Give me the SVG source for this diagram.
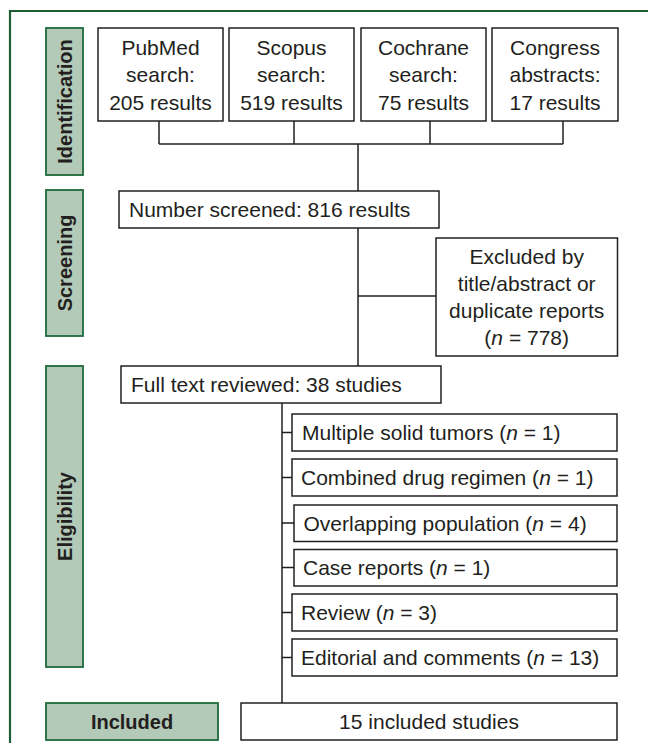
<svg xmlns="http://www.w3.org/2000/svg" width="648" height="743" viewBox="0 0 648 743">
<style>
.frame{fill:none;stroke:#1d5e34;stroke-width:2.2}
.stage rect{fill:#b4cab9;stroke:#1f6a3b;stroke-width:1.8}
.stage text{font-family:"Liberation Sans",Arial,sans-serif;font-weight:bold;font-size:20px;fill:#231f20;text-anchor:middle;dominant-baseline:central}
.box rect{fill:#fff;stroke:#231f20;stroke-width:1.5}
.box text{font-family:"Liberation Sans",Arial,sans-serif;font-size:21px;fill:#231f20}
.c{text-anchor:middle}
#connectors path{fill:none;stroke:#231f20;stroke-width:1.5}
</style>
<rect width="648" height="743" fill="#fff"/>
<path class="frame" d="M10,743 V11 H648"/>

<g id="stage-identification" class="stage"><rect x="46" y="28" width="37" height="147"/><text transform="translate(64.5,101.5) rotate(-90)">Identification</text></g>
<g id="stage-screening" class="stage"><rect x="46" y="190" width="37" height="146"/><text transform="translate(64.5,263) rotate(-90)">Screening</text></g>
<g id="stage-eligibility" class="stage"><rect x="46" y="366" width="37" height="301"/><text transform="translate(64.5,516.5) rotate(-90)">Eligibility</text></g>
<g id="stage-included" class="stage"><rect x="46" y="703" width="172" height="37"/><text x="132" y="721.5">Included</text></g>

<g id="connectors">
<path d="M159,121 V144 M294,121 V144 M430,121 V144 M563,121 V144 M159,144 H563 M358,144 V191"/>
<path d="M358,228 V366 M358,296 H436"/>
<path d="M282,403 V703 M282,432.5 H292 M282,477.5 H292 M282,523 H294 M282,567.5 H294 M282,612.5 H292 M282,657.5 H292"/>
</g>

<g id="pubmed" class="box"><rect x="98" y="28" width="125" height="93"/><text class="c" x="160.5" y="54.5">PubMed</text><text class="c" x="160.5" y="82">search:</text><text class="c" x="160.5" y="109.5">205 results</text></g>
<g id="scopus" class="box"><rect x="229" y="28" width="125" height="93"/><text class="c" x="291.5" y="54.5">Scopus</text><text class="c" x="291.5" y="82">search:</text><text class="c" x="291.5" y="109.5">519 results</text></g>
<g id="cochrane" class="box"><rect x="361" y="28" width="125" height="93"/><text class="c" x="423.5" y="54.5">Cochrane</text><text class="c" x="423.5" y="82">search:</text><text class="c" x="423.5" y="109.5">75 results</text></g>
<g id="congress" class="box"><rect x="492" y="28" width="126" height="93"/><text class="c" x="555" y="54.5">Congress</text><text class="c" x="555" y="82">abstracts:</text><text class="c" x="555" y="109.5">17 results</text></g>

<g id="screened" class="box"><rect x="119" y="191" width="320" height="37"/><text x="129" y="217">Number screened: 816 results</text></g>
<g id="excluded" class="box"><rect x="436" y="238" width="181.5" height="118"/><text class="c" x="526.7" y="263.5">Excluded by</text><text class="c" x="526.7" y="290.5">title/abstract or</text><text class="c" x="526.7" y="317.5">duplicate reports</text><text class="c" x="526.7" y="344.5">(<tspan font-style="italic">n</tspan> = 778)</text></g>

<g id="fulltext" class="box"><rect x="121" y="366" width="320" height="37"/><text x="131" y="392">Full text reviewed: 38 studies</text></g>

<g id="ex-multiple" class="box"><rect x="292" y="414" width="325" height="37"/><text x="302" y="440">Multiple solid tumors (<tspan font-style="italic">n</tspan> = 1)</text></g>
<g id="ex-combined" class="box"><rect x="292" y="459" width="325" height="37"/><text x="301" y="485">Combined drug regimen (<tspan font-style="italic">n</tspan> = 1)</text></g>
<g id="ex-overlapping" class="box"><rect x="294" y="505" width="323" height="36.5"/><text x="303.5" y="530.5">Overlapping population (<tspan font-style="italic">n</tspan> = 4)</text></g>
<g id="ex-case" class="box"><rect x="294" y="549.5" width="323" height="36.5"/><text x="303" y="575">Case reports (<tspan font-style="italic">n</tspan> = 1)</text></g>
<g id="ex-review" class="box"><rect x="292" y="594" width="325" height="37"/><text x="301" y="620">Review (<tspan font-style="italic">n</tspan> = 3)</text></g>
<g id="ex-editorial" class="box"><rect x="292" y="639" width="325" height="37"/><text x="301" y="665">Editorial and comments (<tspan font-style="italic">n</tspan> = 13)</text></g>

<g id="included" class="box"><rect x="241" y="703" width="376" height="37"/><text class="c" x="429" y="729">15 included studies</text></g>
</svg>
